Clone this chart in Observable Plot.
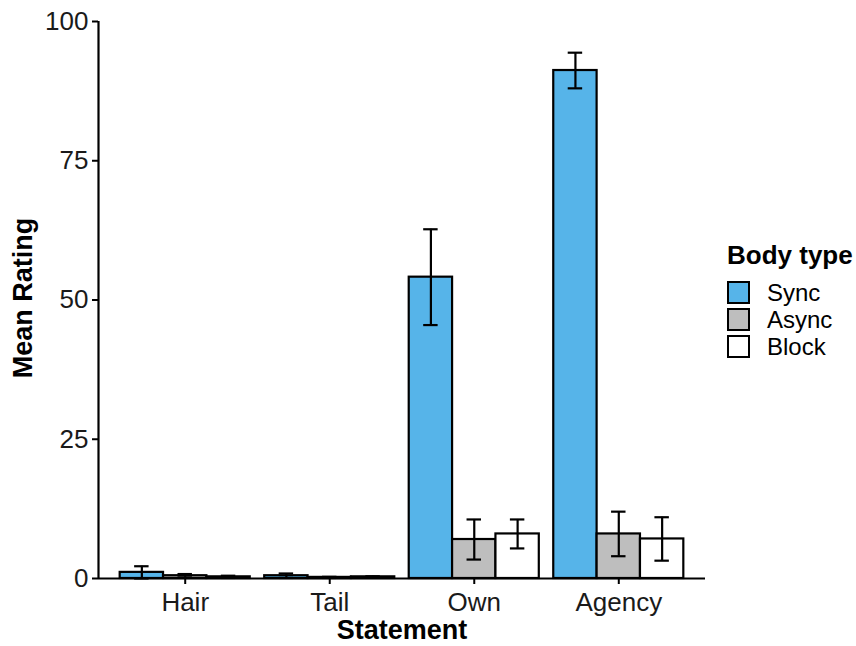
<!DOCTYPE html>
<html>
<head>
<meta charset="utf-8">
<script src="https://cdn.jsdelivr.net/npm/d3@7"></script>
<script src="https://cdn.jsdelivr.net/npm/@observablehq/plot@0.6"></script>
<style>
  body { margin: 0; background: #fff; font-family: "Liberation Sans", Arial, sans-serif; }
  #wrap { position: relative; width: 856px; height: 646px; }
  #legend { position: absolute; left: 727px; top: 240px; color: #000; }
  #legend .title { font-weight: bold; font-size: 26px; line-height: 30px; margin-bottom: 9px; }
  #legend .row { display: flex; align-items: center; height: 27px; }
  #legend .key { width: 19px; height: 19px; border: 2px solid #000; margin-right: 17px; box-sizing: content-box; }
  #legend .lab { font-size: 24px; line-height: 27px; }
  #wrap svg g[aria-label$="axis"] line,
  #wrap svg g[aria-label*="axis tick"] path { stroke-width: 2px; stroke: #000; }
</style>
</head>
<body>
<div id="wrap"></div>
<script>
// ---- data ----
const categories = ["Hair", "Tail", "Own", "Agency"];
const bodyTypes = ["Sync", "Async", "Block"];
const syncMean  = [1.1, 0.5, 54.1, 91.2];
const syncErr   = [1.1, 0.4, 8.6, 3.2];
const asyncMean = [0.5, 0.2, 7.0, 8.0];
const asyncErr  = [0.3, 0.1, 3.6, 4.0];
const blockMean = [0.3, 0.3, 8.0, 7.1];
const blockErr  = [0.2, 0.1, 2.6, 3.9];
const bodyColors = ["#56B4E9", "#BEBEBE", "#FFFFFF"];
const yTicks = [0, 25, 50, 75, 100];
const xLabel = "Statement";
const yLabel = "Mean Rating";
const legendTitle = "Body type";

// ---- build table (ggplot-like dodge: width 0.9, errorbar width 0.1) ----
const dodgeWidth = 0.9, capWidth = 0.1;
const means = [syncMean, asyncMean, blockMean];
const errs = [syncErr, asyncErr, blockErr];
const rows = [];
categories.forEach((c, i) => {
  bodyTypes.forEach((b, j) => {
    const w = dodgeWidth / bodyTypes.length;
    const center = (i + 1) + (j - (bodyTypes.length - 1) / 2) * w;
    rows.push({
      statement: c, body: b, center,
      x1: center - w / 2, x2: center + w / 2,
      mean: means[j][i],
      lo: Math.max(0, means[j][i] - errs[j][i]),
      hi: means[j][i] + errs[j][i]
    });
  });
});
const xDomain = [0.4, categories.length + 0.6];

const chart = Plot.plot({
  width: 856,
  height: 646,
  marginLeft: 98,
  marginRight: 151,
  marginTop: 21,
  marginBottom: 68,
  style: { fontSize: "26px", fontFamily: "Liberation Sans, Arial, sans-serif", color: "#1a1a1a", background: "white", overflow: "visible" },
  x: { domain: xDomain, ticks: categories.map((c, i) => i + 1), tickFormat: d => categories[d - 1], tickSize: 6, tickPadding: 8, label: null },
  y: { domain: [0, 100], ticks: yTicks, tickSize: 6, tickPadding: 4, label: null },
  color: { domain: bodyTypes, range: bodyColors },
  marks: [
    Plot.rectY(rows, { x1: "x1", x2: "x2", y1: 0, y2: "mean", fill: "body", stroke: "black", strokeWidth: 2.2 }),
    Plot.ruleX(rows, { x: "center", y1: "lo", y2: "hi", stroke: "black", strokeWidth: 2.2 }),
    Plot.ruleY(rows, { y: "lo", x1: d => d.center - capWidth / 2, x2: d => d.center + capWidth / 2, stroke: "black", strokeWidth: 2.2 }),
    Plot.ruleY(rows, { y: "hi", x1: d => d.center - capWidth / 2, x2: d => d.center + capWidth / 2, stroke: "black", strokeWidth: 2.2 }),
    Plot.ruleY([0], { stroke: "black", strokeWidth: 2.2 }),
    Plot.ruleX([xDomain[0]], { stroke: "black", strokeWidth: 2.2 }),
    Plot.text([xLabel], { frameAnchor: "bottom", dy: 60, fontWeight: "bold", fontSize: 27, fill: "black" }),
    Plot.text([yLabel], { frameAnchor: "left", textAnchor: "middle", dx: -75, dy: -2, rotate: -90, fontWeight: "bold", fontSize: 27, fill: "black" })
  ]
});
document.getElementById("wrap").appendChild(chart);

// legend
const legend = document.createElement("div");
legend.id = "legend";
const t = document.createElement("div");
t.className = "title";
t.textContent = legendTitle;
legend.appendChild(t);
bodyTypes.forEach((b, j) => {
  const row = document.createElement("div");
  row.className = "row";
  const key = document.createElement("div");
  key.className = "key";
  key.style.background = bodyColors[j];
  const lab = document.createElement("div");
  lab.className = "lab";
  lab.textContent = b;
  row.appendChild(key);
  row.appendChild(lab);
  legend.appendChild(row);
});
document.getElementById("wrap").appendChild(legend);
</script>
</body>
</html>
